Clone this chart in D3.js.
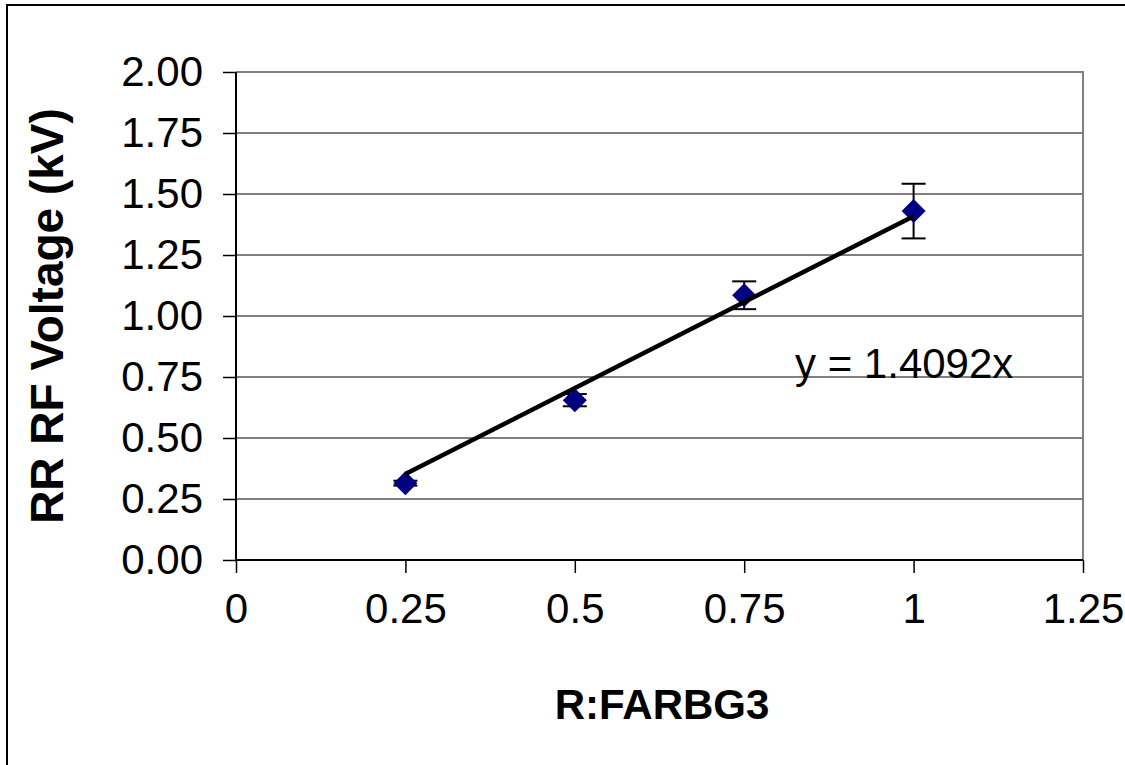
<!DOCTYPE html>
<html>
<head>
<meta charset="utf-8">
<script src="https://cdn.jsdelivr.net/npm/d3@7"></script>
<style>
  body { margin: 0; background: #fff; }
  text { font-family: "Liberation Sans", Arial, sans-serif; }
</style>
</head>
<body>
<div id="chart"></div>
<script>
// values
const xValues = [0.25, 0.5, 0.75, 1.0];
const yValues = [0.315, 0.655, 1.085, 1.43];
const yErrors = [0.01, 0.025, 0.057, 0.112];
const xTicks = [0, 0.25, 0.5, 0.75, 1, 1.25];
const yTicks = [0, 0.25, 0.5, 0.75, 1, 1.25, 1.5, 1.75, 2];
const slope = 1.4092;

const W = 1125, H = 765;
const plot = { left: 236, top: 72, right: 1083, bottom: 560 };

const svg = d3.select('#chart')
  .append('svg')
  .attr('width', W)
  .attr('height', H);

// outer chart border
svg.append('rect')
  .attr('x', 7).attr('y', 5)
  .attr('width', W + 10).attr('height', H + 10)
  .attr('fill', 'none')
  .attr('stroke', '#000')
  .attr('stroke-width', 2);

const x = d3.scaleLinear().domain([0, 1.25]).range([plot.left, plot.right]);
const y = d3.scaleLinear().domain([0, 2]).range([plot.bottom, plot.top]);

// gridlines
svg.append('g')
  .selectAll('line')
  .data(yTicks.filter(d => d > 0 && d < 2))
  .enter()
  .append('line')
  .attr('x1', plot.left).attr('x2', plot.right)
  .attr('y1', d => y(d)).attr('y2', d => y(d))
  .attr('stroke', '#000')
  .attr('stroke-width', 1);

// gray top/right border of plot area
svg.append('path')
  .attr('d', `M${plot.left},${plot.top}H${plot.right}V${plot.bottom}`)
  .attr('fill', 'none')
  .attr('stroke', '#808080')
  .attr('stroke-width', 2);

// axes
const yAxis = d3.axisLeft(y)
  .tickValues(yTicks)
  .tickSize(13)
  .tickPadding(20)
  .tickFormat(d3.format('.2f'));
const xAxis = d3.axisBottom(x)
  .tickValues(xTicks)
  .tickSize(13)
  .tickPadding(20)
  .tickFormat(d => String(d));

const gy = svg.append('g')
  .attr('transform', `translate(${plot.left},0)`)
  .call(yAxis);
const gx = svg.append('g')
  .attr('transform', `translate(0,${plot.bottom})`)
  .call(xAxis);

[gx, gy].forEach(g => {
  g.select('.domain').attr('stroke', '#000').attr('stroke-width', 2);
  g.selectAll('.tick line').attr('stroke', '#000').attr('stroke-width', 1.5);
  g.selectAll('.tick text')
    .attr('fill', '#000')
    .style('font-size', '42px')
    .style('font-family', '"Liberation Sans", Arial, sans-serif');
});
gy.select('.domain').attr('d', `M0,${plot.bottom}V${plot.top}`);
gx.select('.domain').attr('d', `M${plot.left},0H${plot.right}`);

// axis titles
svg.append('text')
  .attr('x', 662).attr('y', 719)
  .attr('text-anchor', 'middle')
  .style('font-size', '42px')
  .style('font-weight', 'bold')
  .text('R:FARBG3');

svg.append('text')
  .attr('transform', `translate(63,${(plot.top + plot.bottom) / 2}) rotate(-90)`)
  .attr('text-anchor', 'middle')
  .style('font-size', '46px')
  .style('font-weight', 'bold')
  .text('RR RF Voltage (kV)');

const data = xValues.map((d, i) => ({ x: d, y: yValues[i], e: yErrors[i] }));

// error bars
const eb = svg.append('g').attr('stroke', '#000').attr('stroke-width', 2);
data.forEach(d => {
  eb.append('line')
    .attr('x1', x(d.x)).attr('x2', x(d.x))
    .attr('y1', y(d.y - d.e)).attr('y2', y(d.y + d.e));
  [d.y - d.e, d.y + d.e].forEach(v => {
    eb.append('line')
      .attr('x1', x(d.x) - 12).attr('x2', x(d.x) + 12)
      .attr('y1', y(v)).attr('y2', y(v));
  });
});

// diamond markers
svg.append('g')
  .selectAll('path')
  .data(data)
  .enter()
  .append('path')
  .attr('transform', d => `translate(${x(d.x)},${y(d.y)})`)
  .attr('d', 'M0,-12L12,0L0,12L-12,0Z')
  .attr('fill', '#000080');

// linear trendline through origin
const xMin = d3.min(xValues), xMax = d3.max(xValues);
svg.append('line')
  .attr('x1', x(xMin)).attr('y1', y(slope * xMin))
  .attr('x2', x(xMax)).attr('y2', y(slope * xMax))
  .attr('stroke', '#000')
  .attr('stroke-width', 4.5);

svg.append('text')
  .attr('x', 795).attr('y', 378)
  .style('font-size', '42px')
  .text(`y = ${slope}x`);
</script>
</body>
</html>
